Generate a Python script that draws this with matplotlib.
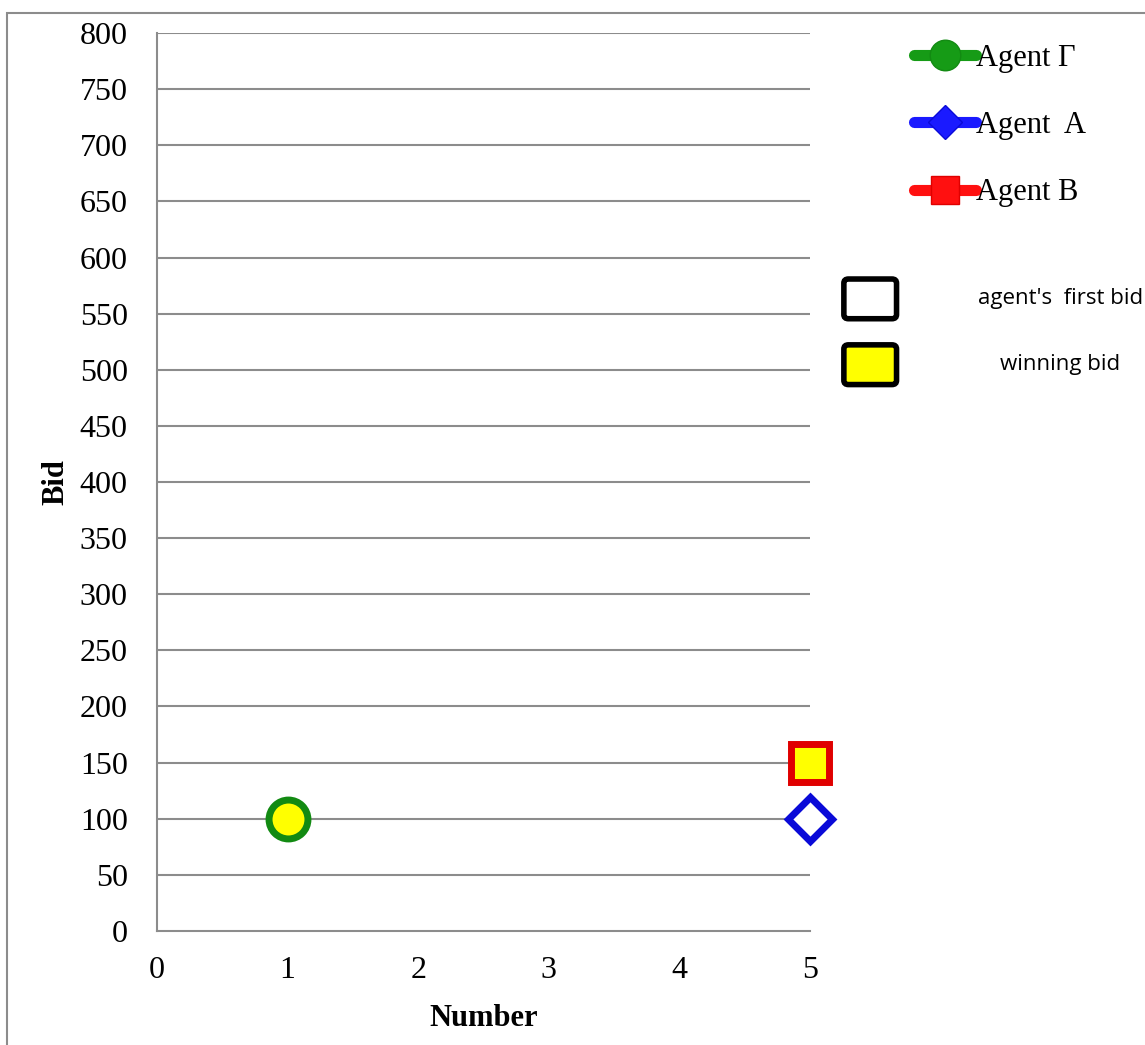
import numpy as np
import matplotlib.pyplot as plt
from matplotlib.lines import Line2D
from matplotlib.patches import Rectangle, FancyBboxPatch

# 数据
agents = ["Agent Γ", "Agent  A", "Agent B"]
numbers = [1, 5, 5]
bids = [100, 100, 150]
line_colors = ["#169b16", "#1a1aff", "#ff1010"]
edge_colors = ["#128a12", "#0a0ad8", "#e00000"]
face_colors = ["#ffff00", "#ffffff", "#ffff00"]
markers = ["o", "D", "s"]
marker_sizes = [28, 22, 28]
legend_marker_sizes = [22, 17, 20]

x_ticks = [0, 1, 2, 3, 4, 5]
y_ticks = list(range(0, 801, 50))

plt.rcParams["font.family"] = ["Liberation Serif", "DejaVu Serif"]

fig = plt.figure(figsize=(11.45, 10.45), dpi=100)
ax = fig.add_axes([0.1371, 0.1091, 0.5703, 0.8593])

# 外框
fig.add_artist(Rectangle((0.006, -0.05), 1.2, 0.038 + 1.0, transform=fig.transFigure,
                         fill=False, edgecolor="#8c8c8c", linewidth=1.5))

# 网格
for y in y_ticks[1:]:
    ax.axhline(y, color="#8c8c8c", linewidth=1.5, zorder=1)

# 数据点
for i in range(len(agents)):
    ax.plot(numbers[i], bids[i], marker=markers[i], markersize=marker_sizes[i],
            markerfacecolor=face_colors[i], markeredgecolor=edge_colors[i],
            markeredgewidth=5, linestyle="none", clip_on=False, zorder=5)

ax.set_xlim(0, 5)
ax.set_ylim(0, 800)
ax.set_xticks(x_ticks)
ax.set_yticks(y_ticks)
ax.tick_params(length=0, labelsize=23)
ax.tick_params(axis="y", pad=21)
ax.tick_params(axis="x", pad=18)
for s in ["top", "right"]:
    ax.spines[s].set_visible(False)
for s in ["left", "bottom"]:
    ax.spines[s].set_color("#8c8c8c")
    ax.spines[s].set_linewidth(1.5)

ax.set_xlabel("Number", fontsize=22, fontweight="bold", labelpad=14)
ax.set_ylabel("Bid", fontsize=22, fontweight="bold", labelpad=7)

# 图例：三个 agent
handles = [Line2D([0], [0], color=line_colors[i], linewidth=8, solid_capstyle="round",
                  marker=markers[i], markersize=legend_marker_sizes[i],
                  markerfacecolor=line_colors[i], markeredgecolor=edge_colors[i],
                  markeredgewidth=1) for i in range(len(agents))]
fig.legend(handles, agents, loc="upper left", bbox_to_anchor=(0.798, 0.958),
           frameon=False, fontsize=22, handlelength=2.05, handletextpad=0.0,
           labelspacing=1.25, borderpad=0, borderaxespad=0)

# 图例：方框说明
box_labels = ["agent's  first bid", "winning bid"]
box_faces = ["#ffffff", "#ffff00"]
box_y = [0.697, 0.634]
for i in range(2):
    fig.add_artist(FancyBboxPatch((0.737, box_y[i] - 0.002), 0.046, 0.038,
                                  boxstyle="round,pad=0,rounding_size=0.004",
                                  transform=fig.transFigure, facecolor=box_faces[i],
                                  edgecolor="black", linewidth=4))
    fig.text(0.926, box_y[i] + 0.017, box_labels[i], ha="center", va="center",
             fontsize=16, family=["Open Sans", "DejaVu Sans"])

fig.savefig("out.png", dpi=100)
